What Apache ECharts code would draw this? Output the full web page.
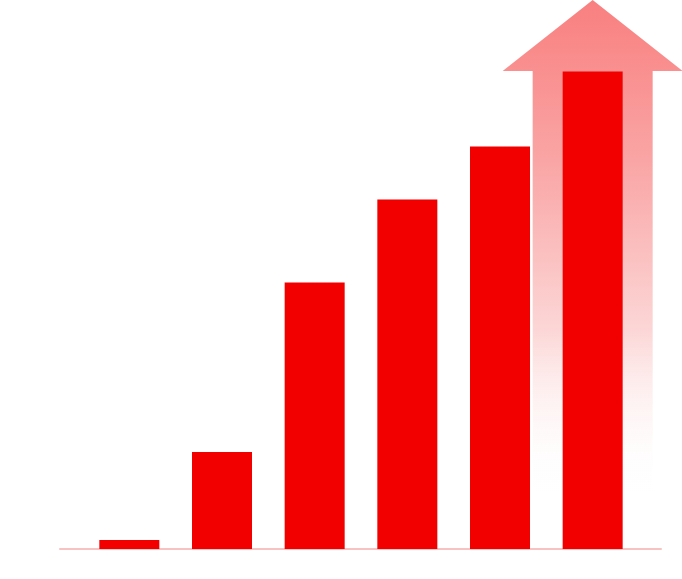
<!DOCTYPE html>
<html>
<head>
<meta charset="utf-8">
<title>growth bars</title>
<script src="https://cdn.jsdelivr.net/npm/echarts@6/dist/echarts.min.js"></script>
<style>
  html, body { margin: 0; padding: 0; background: #fff; }
  #chart { width: 682px; height: 579px; }
</style>
</head>
<body>
<div id="chart"></div>
<script>
// data
const categories = ['1', '2', '3', '4', '5', '6']
const barValues = [1.9, 20.3, 55.8, 73.2, 84.3, 100]
const arrowValues = ['-', '-', '-', '-', '-', 115]
const yMax = 115

const arrowPath = 'path://M90,0 L180,71 L150,71 L150,549 L30,549 L30,71 L0,71 Z'

const chart = echarts.init(document.getElementById('chart'))
chart.setOption({
  animation: false,
  grid: [
    { left: 83, right: 43, top: 0, bottom: 30 },
    { left: 60, right: 21, top: 0, bottom: 30 }
  ],
  xAxis: [
    {
      type: 'category',
      gridIndex: 0,
      data: categories,
      axisLine: { show: false },
      axisTick: { show: false },
      axisLabel: { show: false }
    },
    {
      type: 'category',
      gridIndex: 1,
      data: categories,
      axisLine: {
        show: true,
        lineStyle: { color: '#f8c2c2', width: 2 }
      },
      axisTick: { show: false },
      axisLabel: { show: false }
    }
  ],
  yAxis: [
    {
      type: 'value',
      gridIndex: 0,
      min: 0,
      max: yMax,
      show: false
    },
    {
      type: 'value',
      gridIndex: 1,
      min: 0,
      max: yMax,
      show: false
    }
  ],
  series: [
    {
      type: 'pictorialBar',
      xAxisIndex: 0,
      yAxisIndex: 0,
      z: 1,
      barWidth: 60,
      barGap: '-100%',
      symbol: arrowPath,
      symbolSize: [180, '100%'],
      symbolPosition: 'start',
      itemStyle: {
        color: new echarts.graphic.LinearGradient(0, 0, 0, 1, [
          { offset: 0, color: '#f97f7f' },
          { offset: 0.3, color: '#faa6a6' },
          { offset: 0.6, color: '#fcd6d6' },
          { offset: 0.9, color: 'rgba(255,255,255,0)' }
        ])
      },
      data: arrowValues
    },
    {
      type: 'bar',
      xAxisIndex: 0,
      yAxisIndex: 0,
      z: 2,
      barWidth: 60,
      barGap: '-100%',
      itemStyle: { color: '#f20000' },
      data: barValues
    }
  ]
})
</script>
</body>
</html>
